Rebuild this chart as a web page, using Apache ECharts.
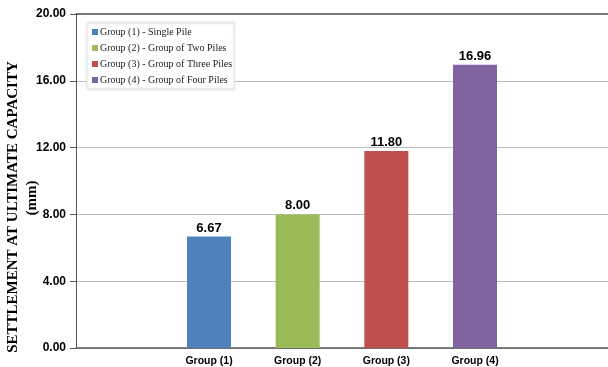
<!DOCTYPE html>
<html>
<head>
<meta charset="utf-8">
<script src="https://cdn.jsdelivr.net/npm/echarts@6/dist/echarts.min.js"></script>
<style>
  html, body { margin: 0; padding: 0; background: #fff; }
  #chart { width: 608px; height: 367px; }
</style>
</head>
<body>
<div id="chart"></div>
<script>
// categories (blank slots at both ends, as in the original sheet)
const categories = ['', 'Group (1)', 'Group (2)', 'Group (3)', 'Group (4)', ''];
const seriesNames = [
  'Group (1) - Single Pile',
  'Group (2) - Group of Two Piles',
  'Group (3) - Group of Three Piles',
  'Group (4) - Group of Four Piles'
];
const settlement = [6.67, 8.00, 11.80, 16.96];
const barColors = ['#4F81BD', '#9BBB59', '#C0504D', '#8064A2'];
const yTicks = [0, 4, 8, 12, 16, 20];

const chart = echarts.init(document.getElementById('chart'), null, { renderer: 'canvas' });

// one series per group, each placed on its own category
const series = seriesNames.map((name, i) => {
  const data = categories.map(() => null);
  data[i + 1] = settlement[i];
  return {
    name,
    type: 'bar',
    stack: 'all',
    barWidth: 44,
    data,
    itemStyle: { color: barColors[i] },
    label: {
      show: true,
      position: 'top',
      distance: 2,
      formatter: (p) => p.value.toFixed(2),
      color: '#000',
      fontFamily: 'Liberation Sans, Arial, sans-serif',
      fontWeight: 'bold',
      fontSize: 13
    }
  };
});

chart.setOption({
  animation: false,
  backgroundColor: '#fff',
  grid: { left: 76, right: 0, top: 14, bottom: 19 },
  legend: {
    orient: 'vertical',
    left: 87,
    top: 23,
    padding: [4, 2, 4, 5],
    itemWidth: 6,
    itemHeight: 6,
    itemGap: 6,
    icon: 'rect',
    backgroundColor: '#fff',
    borderColor: '#e6e6e6',
    borderWidth: 1,
    shadowColor: 'rgba(0,0,0,0.12)',
    shadowBlur: 3,
    textStyle: {
      fontFamily: 'Liberation Serif, Times New Roman, serif',
      fontSize: 10,
      color: '#222',
      padding: [0, 0, 0, -3]
    },
    data: seriesNames
  },
  xAxis: [
    {
      type: 'category',
      data: categories,
      axisLine: { lineStyle: { color: '#555', width: 1.5 } },
      axisTick: { show: false },
      axisLabel: {
        color: '#000',
        fontFamily: 'Liberation Sans, Arial, sans-serif',
        fontWeight: 'bold',
        fontSize: 10.5,
        margin: 8
      }
    },
    {
      type: 'category',
      position: 'top',
      data: categories,
      axisLine: { lineStyle: { color: '#555', width: 1.5 } },
      axisTick: { show: false },
      axisLabel: { show: false }
    }
  ],
  yAxis: {
    type: 'value',
    min: yTicks[0],
    max: yTicks[yTicks.length - 1],
    interval: 4,
    axisLine: { show: true, lineStyle: { color: '#555', width: 1 } },
    axisTick: { show: true, inside: false, length: 6, lineStyle: { color: '#555' } },
    axisLabel: {
      color: '#000',
      fontFamily: 'Liberation Sans, Arial, sans-serif',
      fontWeight: 'bold',
      fontSize: 12,
      margin: 10,
      formatter: (v) => v.toFixed(2)
    },
    splitLine: { lineStyle: { color: '#bdbdbd', width: 1 } }
  },
  graphic: [
    {
      type: 'text',
      x: 13,
      y: 207,
      rotation: Math.PI / 2,
      style: {
        text: 'SETTLEMENT AT ULTIMATE CAPACITY',
        fontFamily: 'Liberation Serif, Times New Roman, serif',
        fontWeight: 'bold',
        fontSize: 15,
        fill: '#000',
        align: 'center',
        verticalAlign: 'middle'
      }
    },
    {
      type: 'text',
      x: 32,
      y: 198,
      rotation: Math.PI / 2,
      style: {
        text: '(mm)',
        fontFamily: 'Liberation Serif, Times New Roman, serif',
        fontWeight: 'bold',
        fontSize: 15,
        fill: '#000',
        align: 'center',
        verticalAlign: 'middle'
      }
    }
  ],
  series
});
</script>
</body>
</html>
